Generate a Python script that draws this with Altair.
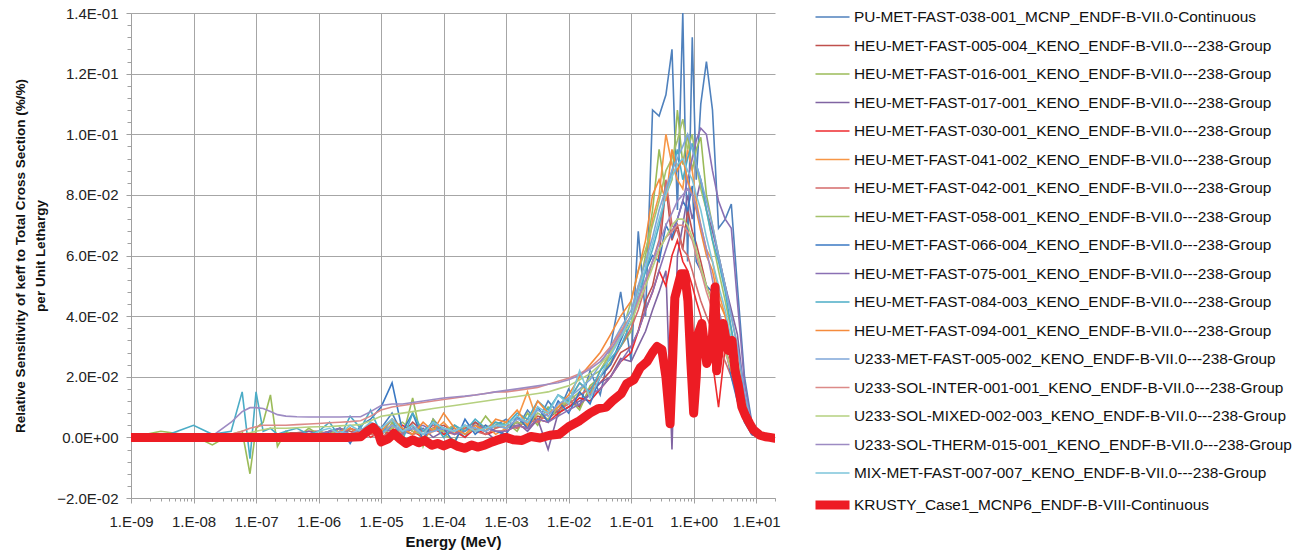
import altair as alt
import pandas as pd

SCALE = 1e-3  # values below are in units of 1e-3 (%/%)

NAMES = [
    "PU-MET-FAST-038-001_MCNP_ENDF-B-VII.0-Continuous",
    "HEU-MET-FAST-005-004_KENO_ENDF-B-VII.0---238-Group",
    "HEU-MET-FAST-016-001_KENO_ENDF-B-VII.0---238-Group",
    "HEU-MET-FAST-017-001_KENO_ENDF-B-VII.0---238-Group",
    "HEU-MET-FAST-030-001_KENO_ENDF-B-VII.0---238-Group",
    "HEU-MET-FAST-041-002_KENO_ENDF-B-VII.0---238-Group",
    "HEU-MET-FAST-042-001_KENO_ENDF-B-VII.0---238-Group",
    "HEU-MET-FAST-058-001_KENO_ENDF-B-VII.0---238-Group",
    "HEU-MET-FAST-066-004_KENO_ENDF-B-VII.0---238-Group",
    "HEU-MET-FAST-075-001_KENO_ENDF-B-VII.0---238-Group",
    "HEU-MET-FAST-084-003_KENO_ENDF-B-VII.0---238-Group",
    "HEU-MET-FAST-094-001_KENO_ENDF-B-VII.0---238-Group",
    "U233-MET-FAST-005-002_KENO_ENDF-B-VII.0---238-Group",
    "U233-SOL-INTER-001-001_KENO_ENDF-B-VII.0---238-Group",
    "U233-SOL-MIXED-002-003_KENO_ENDF-B-VII.0---238-Group",
    "U233-SOL-THERM-015-001_KENO_ENDF-B-VII.0---238-Group",
    "MIX-MET-FAST-007-007_KENO_ENDF-B-VII.0---238-Group",
    "KRUSTY_Case1_MCNP6_ENDF-B-VIII-Continuous",
]
COLORS = [
    "#4F81BD", "#C0504D", "#9BBB59", "#8064A2", "#EE2A2E", "#F79646",
    "#D46A6A", "#A5C26B", "#3A78C3", "#8A70B4", "#4BACC6", "#F58B3C",
    "#7EA6D9", "#DC8A88", "#B5D07F", "#9D8BC3", "#7CC5DA", "#ED1C24",
]
WIDTHS = [1.6] * 17 + [9]

# Common energy grid (MeV) for the thin series
E_LOW = [1e-9, 3e-9, 1e-8, 2e-8, 4e-8, 6e-8, 8e-8, 1e-7, 1.3e-7, 1.7e-7, 2.2e-7, 3e-7, 4.5e-7, 7e-7]
E_MID = [1e-6, 1.5e-6, 2.2e-6, 3.2e-6, 4.7e-6, 6.8e-6, 1e-5, 1.5e-5, 2.2e-5, 3.2e-5, 4.7e-5, 6.8e-5,
         1e-4, 1.5e-4, 2.2e-4, 3.2e-4, 4.7e-4, 6.8e-4]
E_HI1 = [1e-3, 1.5e-3, 2.2e-3, 3.2e-3, 4.7e-3, 6.8e-3, 1e-2, 1.5e-2, 2.2e-2, 3.2e-2, 4.7e-2, 6.8e-2]
E_HI2 = [0.1, 0.13, 0.17, 0.22, 0.28, 0.36, 0.45, 0.55, 0.67, 0.8, 0.95, 1.1, 1.3, 1.6, 2.0, 2.5,
         3.2, 4.0, 5.0, 6.5, 8.5, 11, 14, 20]
E = E_LOW + E_MID + E_HI1 + E_HI2

Z14 = [0] * 14

PU038 = Z14 + [0, 0.5, 1, 0, 2, 5, 3, 8, 1, 4, -1, 6, 2, 3, 0, 5, 2, 4] \
    + [6, 3, 9, 5, 12, 8, 16, 10, 22, 14, 30, 48] \
    + [25, 68, 40, 108, 106, 113, 128, 75, 140, 58, 132, 85, 110, 124, 108, 69, 72, 77, 50, 20, 5, 1, 0, 0]
HEU005 = [0, 0, 0, 0, 0, 0, 0, 0.5, 0.5, 1, 1, 1.5, 1.5, 2] \
    + [2, 1, 3, 2, 1, 4, 2, 3, 1, 5, 2, 3, 4, 2, 3, 5, 3, 4] \
    + [3, 5, 4, 7, 6, 9, 12, 10, 15, 18, 22, 28] \
    + [30, 35, 45, 50, 60, 83, 65, 70, 62, 75, 68, 64, 58, 50, 45, 38, 32, 25, 18, 8, 2, 0.5, 0, 0]
HEU016 = [0, 2, 0.5, -2.5, 1, 2, -12, 3, 5, 14, -3, 2, 0, 3] \
    + [1, 2, -1, 3, 1, 4, -2, 5, 0, 13, -3, 6, 1, -1, 4, 2, 7, 3] \
    + [5, 2, 8, 4, 10, 7, 13, 9, 17, 20, 25, 30] \
    + [35, 48, 60, 75, 95, 80, 85, 108, 90, 100, 88, 95, 99, 80, 70, 60, 50, 40, 30, 14, 4, 1, 0, 0]
HEU017 = [0, 0, 0, 0, 0, 0, 0, 0, 0, 0, 0.5, 1, 1, 2] \
    + [1, 2, 0, 3, 1, 2, -1, 4, 2, 1, 3, 0, 2, 4, 1, 3, 2, -1] \
    + [3, 5, 2, 6, -4, 8, 10, 12, 14, 18, 20, 26] \
    + [25, 30, 35, 42, 48, 55, -4, 60, 70, 80, 72, 78, 85, 75, 68, 60, 50, 42, 34, 14, 3, 0.5, 0, 0]
HEU030 = [0, 0, 0, 0, 0, 0, 0, 0, 0, 0, 0, 0.5, 1, 1] \
    + [1, 0, 2, 1, 3, 0, 2, 1, 4, 2, 0, 3, 1, 2, 0, 3, 1, 2] \
    + [2, 4, 3, 6, 5, 8, 10, 13, 12, 16, 20, 25] \
    + [28, 35, 42, 48, 55, 50, 60, 65, 58, 55, 50, 45, 40, 30, 25, 10, 30, 22, 15, 6, 1, 0, 0, 0]
HEU041 = Z14 + [0, 1, 2, 0, 3, 1, 2, 4, 1, 3, 0, 2, 5, 1, 3, 2, 4, 1] \
    + [3, 6, 15, 5, 8, 10, 12, 18, 14, 22, 28, 35] \
    + [40, 50, 55, 72, 80, 100, 90, 85, 82, 95, 88, 78, 70, 62, 58, 48, 40, 30, 22, 10, 2, 0.5, 0, 0]
HEU042 = [0, 0, 0, 0, 0, 0, 0, 0, 0, 0, 0, 0, 0.5, 1] \
    + [1, 2, 1, 3, 2, 1, 0, 2, 3, 1, 2, 4, 2, 1, 3, 2, 1, 3] \
    + [4, 3, 6, 5, 8, 9, 11, 14, 16, 20, 24, 30] \
    + [36, 42, 50, 58, 65, 85, 70, 68, 62, 60, 55, 50, 45, 40, 35, 30, 25, 20, 14, 6, 1, 0, 0, 0]
HEU058 = Z14 + [2, 1, 3, 0, 2, 4, 1, 3, 5, 2, 1, 3, 2, 4, 1, 3, 2, 5] \
    + [3, 5, 4, 8, 6, 10, 12, 15, 20, 22, 28, 33] \
    + [45, 55, 62, 70, 78, 88, 92, 98, 105, 95, 100, 90, 82, 75, 65, 55, 45, 35, 25, 12, 3, 0.5, 0, 0]
HEU066 = [0, 0, 0, 0, 0, 0, 0, 0, 0, 0, 0, 0, 0.5, 1] \
    + [-1, 2, 3, -2, 4, 6, 10, 18, 2, 8, -1, 5, 3, -2, 6, 1, 4, 2] \
    + [1, 7, 3, 10, 5, 12, 8, 15, 11, 20, 24, 32] \
    + [40, 48, 55, 60, 58, 70, 66, 72, 78, 75, 83, 58, 55, 50, 48, 42, 30, 20, 12, 5, 1, 0, 0, 0]
HEU075 = Z14 + [1, 2, 3, 1, 2, 4, 3, 2, 1, 3, 4, 2, 3, 1, 2, 4, 3, 2] \
    + [2, 4, 3, 6, 5, 7, 9, 11, 14, 16, 20, 25] \
    + [30, 35, 42, 48, 55, 62, 68, 72, 78, 85, 92, 98, 102, 100, 88, 78, 72, 69, 45, 18, 4, 0.5, 0, 0]
HEU084 = [0, 0, 4, 1, 2, 15, -7, 15, 2, 3, 1, 2, 3, 1] \
    + [2, 5, 0, 7, 3, 9, 1, 6, -1, 8, 2, 5, 0, 4, 2, 6, 3, 5] \
    + [4, 8, 6, 12, 9, 14, 12, 18, 15, 22, 26, 30] \
    + [38, 45, 55, 62, 70, 80, 88, 95, 85, 92, 97, 90, 85, 75, 65, 58, 48, 36, 25, 10, 2, 0.5, 0, 0]
HEU094 = Z14 + [1, 0, 2, 3, 1, 4, 2, 6, 3, 1, 5, 2, 8, 3, 1, 4, 2, 6] \
    + [5, 9, 4, 12, 8, 10, 14, 20, 24, 28, 34, 40] \
    + [45, 55, 65, 80, 85, 78, 95, 88, 92, 85, 80, 75, 68, 60, 55, 45, 40, 30, 20, 8, 2, 0, 0, 0]
U233MF = Z14 + [1, 0, 2, 1, 3, 2, 1, 4, 2, 3, 1, 2, 3, 2, 4, 3, 2, 4] \
    + [3, 6, 5, 9, 7, 11, 13, 16, 19, 24, 30, 36] \
    + [42, 50, 58, 66, 75, 82, 88, 92, 96, 100, 95, 90, 85, 78, 70, 60, 50, 40, 30, 15, 4, 1, 0, 0]
U233SI = [0, 0, 0, 0.5, 1, 2, 3, 3.5, 4, 4, 4, 4, 4.2, 4.4] \
    + [4.6, 4.8, 5, 5.2, 5.5, 7, 9, 10, 10.5, 11, 11.5, 12, 12.5, 13, 13.5, 14, 14.5, 15] \
    + [15, 15.5, 16, 16.5, 17.5, 18.5, 19.5, 21, 23, 26, 30, 35] \
    + [40, 45, 52, 58, 62, 66, 68, 70, 70, 68, 65, 60, 55, 48, 42, 35, 28, 22, 15, 7, 2, 0.5, 0, 0]
U233SM = [0, 0, 0, 0.2, 0.5, 1, 1.5, 2, 2.5, 3, 3, 3, 3.2, 3.4] \
    + [3.5, 3.6, 3.8, 4, 4.2, 5.5, 7, 7.5, 8, 8.5, 9, 9.5, 10, 10.5, 11, 11.5, 12, 12.5] \
    + [13, 13.5, 14, 14.5, 15, 16, 17, 19, 21, 24, 28, 33] \
    + [38, 44, 50, 56, 62, 66, 70, 72, 72, 70, 66, 62, 56, 50, 44, 36, 29, 22, 15, 7, 2, 0.5, 0, 0]
U233ST = [0, 0, 0, 0.5, 5, 8.5, 9.8, 9.8, 9.5, 8.5, 7.5, 7, 6.8, 6.7] \
    + [6.7, 6.7, 6.7, 6.8, 6.8, 8.5, 10.5, 11, 11, 11.5, 12, 12.5, 13, 13.3, 13.6, 14, 14.5, 15] \
    + [15.5, 16, 16.5, 17, 17.5, 18, 19, 20.5, 22.5, 25, 29, 34] \
    + [40, 46, 52, 58, 64, 70, 74, 78, 80, 82, 80, 76, 70, 62, 52, 42, 34, 26, 18, 8, 2, 0.5, 0, 0]
MIXMF = Z14 + [2, 3, 1, 4, 2, 5, 3, 6, 2, 4, 1, 5, 3, 2, 4, 2, 3, 4] \
    + [4, 7, 5, 10, 8, 14, 11, 22, 13, 20, 27, 33] \
    + [40, 48, 56, 64, 72, 80, 86, 90, 92, 88, 85, 80, 75, 66, 58, 50, 42, 32, 22, 10, 3, 0.5, 0, 0]

THIN = [PU038, HEU005, HEU016, HEU017, HEU030, HEU041, HEU042, HEU058, HEU066,
        HEU075, HEU084, HEU094, U233MF, U233SI, U233SM, U233ST, MIXMF]

# KRUSTY series (own energy points)
E_K = [1e-9, 1e-8, 1e-7, 1e-6, 3e-6, 4.7e-6, 6e-6, 7.5e-6, 9e-6, 1.0e-5, 1.3e-5, 1.6e-5, 2e-5, 2.5e-5,
       3.2e-5, 4e-5, 5e-5, 6.5e-5, 8e-5, 1e-4, 1.3e-4, 1.7e-4, 2.2e-4, 2.8e-4, 3.5e-4, 4.5e-4, 5.5e-4,
       7e-4, 1e-3, 1.3e-3, 1.8e-3, 2.5e-3, 3.5e-3, 5e-3, 7e-3, 1e-2, 1.5e-2, 2.2e-2, 3e-2, 4e-2, 5e-2,
       7e-2, 8.5e-2, 0.11, 0.14, 0.18, 0.22, 0.26, 0.31, 0.36, 0.42, 0.46, 0.5, 0.56, 0.63, 0.72, 0.81,
       0.9, 1.0, 1.1, 1.17, 1.35, 1.5, 1.62, 1.8, 1.95, 2.1, 2.2, 2.33, 2.6, 2.95, 3.3, 3.55, 4.1, 4.6,
       5.2, 5.9, 6.8, 7.9, 9.0, 11.5, 14, 16.6, 20]
S_K = [0, 0, 0, 0, 0, 0.2, 2, 3.3, 1.5, -1.5, -0.5, 1.3, -0.5, -2, -0.8, -1.8, -1, -2.6, -2, -2.8,
       -1.8, -3, -3.6, -2.5, -3.2, -2.6, -1.8, -1, 0, -0.8, -1, 0.3, -0.2, 0.7, 1, 3.5, 5.5, 8, 9.5, 10,
       12, 14.5, 17.7, 19, 23, 25, 28, 30, 29, 20, 4.5, 25, 46, 50, 54, 54, 45, 25, 8, 20, 34, 37.6, 30,
       24.4, 27, 29, 42, 49.6, 22, 30, 37.6, 32, 28.7, 32, 22, 17, 10, 7, 4.5, 2.5, 0.7, 0.2, 0, -0.3]

# Tick values
X_MAJOR = [10.0 ** k for k in range(-9, 2)]
X_MINOR = [m * 10.0 ** k for k in range(-9, 1) for m in range(2, 10)] + [20.0]
X_TICKS = sorted(X_MAJOR + X_MINOR)
Y_TICKS = [round(-0.02 + 0.004 * k, 3) for k in range(41)]

rows = []
for name, vals in zip(NAMES[:17], THIN):
    for i, (e, v) in enumerate(zip(E, vals)):
        rows.append({"series": name, "E": e, "S": v * SCALE, "i": i})
thin_df = pd.DataFrame(rows)
kr_df = pd.DataFrame({"series": NAMES[17], "E": E_K, "S": [v * SCALE for v in S_K], "i": list(range(len(E_K)))})

FONT = "Liberation Sans"
is_major_x = "abs(log(datum.value)/LN10 - round(log(datum.value)/LN10)) < 0.001"
ex = "round(log(datum.value)/LN10)"
x_label = (f"{is_major_x} ? ('1.E' + ({ex} < 0 ? '-' : '+') + (abs({ex}) < 10 ? '0' : '') + abs({ex})) : ''")
is_major_y = "abs(datum.value*50 - round(datum.value*50)) < 0.001"
ey = "floor(log(abs(datum.value))/LN10 + 1e-9)"
y_label = (f"{is_major_y} ? (abs(datum.value) < 1e-9 ? '0.0E+00' : "
           f"(format(datum.value / pow(10, {ey}), '.1f') + 'E' + ({ey} < 0 ? '-' : '+') + "
           f"(abs({ey}) < 10 ? '0' : '') + abs({ey}))) : ''")

x_axis = alt.Axis(
    values=X_TICKS, labelExpr=x_label, labelOverlap=False, labelFlush=False,
    grid=True, gridColor="#A6A6A6", gridWidth=1,
    gridOpacity={"condition": {"test": is_major_x, "value": 1}, "value": 0},
    tickSize={"condition": {"test": is_major_x, "value": 5}, "value": 3},
    tickColor="#A0A0A0", domainColor="#A0A0A0",
    labelFont=FONT, labelFontSize=15, labelColor="#222222", labelPadding=11,
    titleFont=FONT, titleFontSize=15, titleFontWeight="bold", titleColor="#111111", titlePadding=5,
)
y_axis = alt.Axis(
    values=Y_TICKS, labelExpr=y_label, labelOverlap=False, labelFlush=False,
    grid=True, gridColor="#A6A6A6", gridWidth=1,
    gridOpacity={"condition": {"test": is_major_y, "value": 1}, "value": 0},
    tickSize={"condition": {"test": is_major_y, "value": 5}, "value": 4},
    tickColor="#A0A0A0", domainColor="#A0A0A0",
    labelFont=FONT, labelFontSize=15, labelColor="#222222", labelPadding=8,
    titleFont=FONT, titleFontSize=13.5, titleFontWeight="bold", titleColor="#111111",
    titlePadding=9, titleLineHeight=20,
)

legend = alt.Legend(
    orient="none", legendX=680, legendY=-14, title=None,
    symbolType="stroke", symbolSize=1156, labelOffset=0,
    labelFont=FONT, labelFontSize=15.4, labelColor="#111111", labelLimit=700,
    rowPadding=1.5,
)

x_enc = alt.X("E:Q", scale=alt.Scale(type="log", domain=[1e-9, 20], nice=False),
              axis=x_axis, title="Energy (MeV)")
y_enc = alt.Y("S:Q", scale=alt.Scale(domain=[-0.02, 0.14], nice=False, zero=False),
              axis=y_axis,
              title=["Relative Sensitivity of keff to Total Cross Section (%/%)", "per Unit Lethargy"])
c_enc = alt.Color("series:N", scale=alt.Scale(domain=NAMES, range=COLORS), legend=legend)
w_enc = alt.StrokeWidth("series:N", scale=alt.Scale(type="ordinal", domain=NAMES, range=WIDTHS), legend=legend)

thin = alt.Chart(thin_df).mark_line(clip=True).encode(
    x=x_enc, y=y_enc, color=c_enc, strokeWidth=w_enc, order="i:Q")
krusty = alt.Chart(kr_df).mark_line(clip=True, strokeCap="round", strokeJoin="round").encode(
    x=x_enc, y=y_enc, color=c_enc, strokeWidth=w_enc, order="i:Q")

chart = alt.layer(thin, krusty).properties(
    width=644, height=485,
    padding={"left": 131, "top": 13, "right": 533, "bottom": 58},
    autosize=alt.AutoSizeParams(type="none"),
    background="white",
).configure_view(stroke=None)

chart.save("out.html", embed_options={"renderer": "svg", "actions": False})
